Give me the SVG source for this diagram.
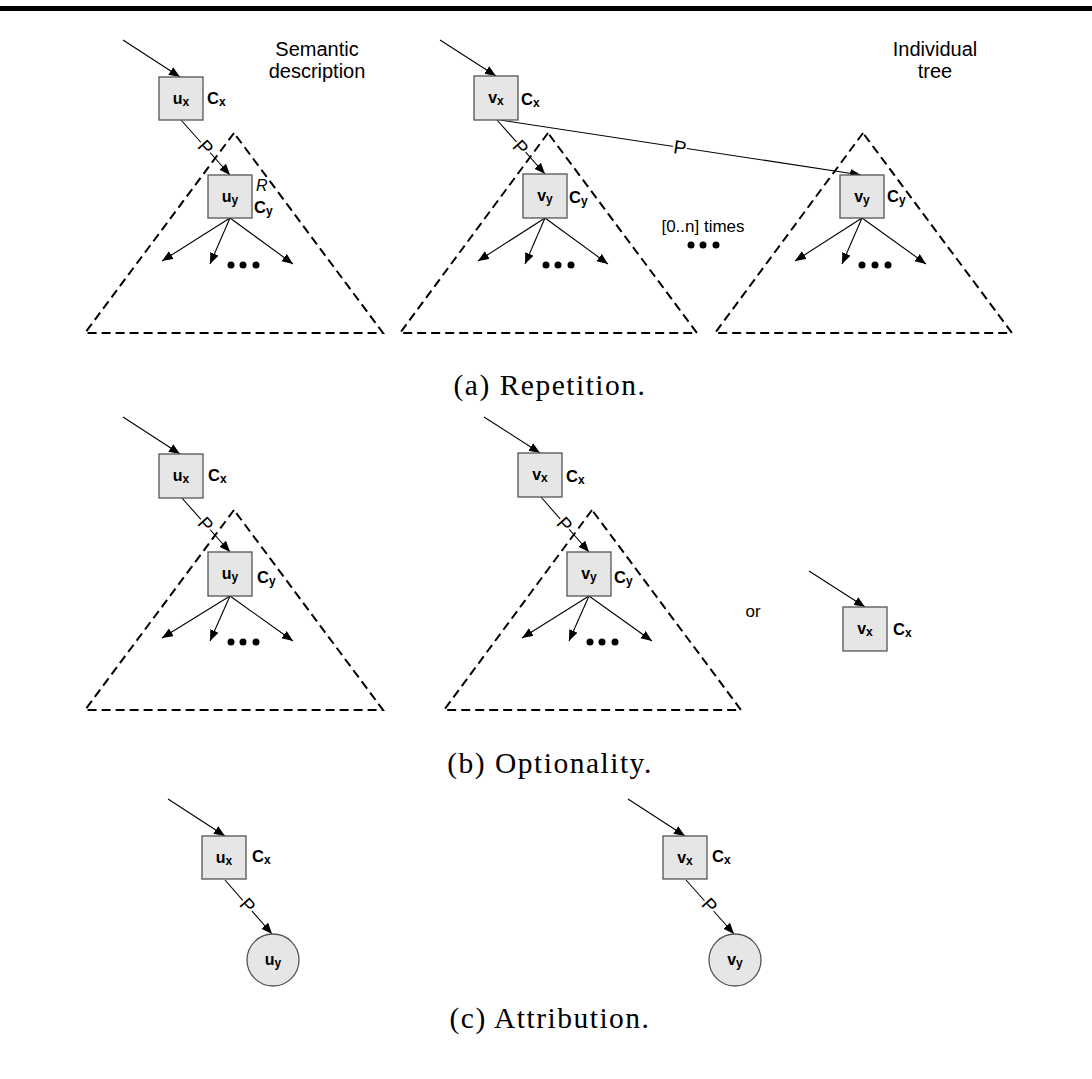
<svg xmlns="http://www.w3.org/2000/svg" width="1092" height="1079" viewBox="0 0 1092 1079">
  <style>
    .box { fill: #e6e6e6; stroke: #555; stroke-width: 1.3; }
    .edge { fill: none; stroke: #000; stroke-width: 1.1; marker-end: url(#head); }
    .tri { fill: none; stroke: #000; stroke-width: 2; stroke-dasharray: 9 5; }
    .lbl { font-family: "Liberation Sans", Arial, sans-serif; font-weight: bold; font-size: 16px; text-anchor: middle; fill: #000; }
    .cls { font-family: "Liberation Sans", Arial, sans-serif; font-weight: bold; font-size: 16.5px; fill: #000; }
    .sub { font-size: 12px; }
    .note { font-family: "Liberation Sans", Arial, sans-serif; font-size: 20px; text-anchor: middle; fill: #000; }
    .small { font-family: "Liberation Sans", Arial, sans-serif; font-size: 17px; text-anchor: middle; fill: #000; }
    .plbl { font-family: "Liberation Sans", Arial, sans-serif; font-size: 19px; text-anchor: middle; fill: #000; }
    .rlbl { font-family: "Liberation Sans", Arial, sans-serif; font-style: italic; font-size: 16px; fill: #000; }
    .cap { font-family: "Liberation Serif", "Times New Roman", serif; font-size: 29.5px; letter-spacing: 1.5px; text-anchor: middle; fill: #000; }
    .dot { fill: #000; }
  </style>
  <defs>
    <marker id="head" markerUnits="userSpaceOnUse" markerWidth="12" markerHeight="10" refX="11" refY="4.5" orient="auto">
      <path d="M0,0 L11,4.5 L0,9 Z" fill="#000"/>
    </marker>
    <!-- white backing behind a rotated P label -->
    <g id="pmask"><rect x="-7" y="-8" width="14" height="16" fill="#fff"/></g>
  </defs>

  <rect x="0" y="6" width="1092" height="5" fill="#000"/>

  <!-- dashed subtree outlines -->
  <g id="subtrees">
    <polygon class="tri" points="234,133 85,333 383,333"/>
    <polygon class="tri" points="548,133 400,333 697,333"/>
    <polygon class="tri" points="863,133 715,333 1012,333"/>
    <polygon class="tri" points="234,510 85,710 383,710"/>
    <polygon class="tri" points="592,510 444,710 741,710"/>
  </g>

  <!-- connectors -->
  <g id="connectors">
    <!-- (a) -->
    <line class="edge" x1="123" y1="40" x2="180" y2="77"/>
    <line class="edge" x1="181" y1="120" x2="230" y2="175"/>
    <line class="edge" x1="230" y1="218" x2="162" y2="261"/>
    <line class="edge" x1="230" y1="218" x2="210" y2="264"/>
    <line class="edge" x1="230" y1="218" x2="293" y2="264"/>

    <line class="edge" x1="440" y1="40" x2="496" y2="76"/>
    <line class="edge" x1="497" y1="120" x2="545" y2="174"/>
    <line class="edge" x1="500" y1="120" x2="861" y2="175"/>
    <line class="edge" x1="545" y1="218" x2="478" y2="261"/>
    <line class="edge" x1="545" y1="218" x2="525" y2="264"/>
    <line class="edge" x1="545" y1="218" x2="608" y2="264"/>

    <line class="edge" x1="862" y1="218" x2="795" y2="261"/>
    <line class="edge" x1="862" y1="218" x2="842" y2="264"/>
    <line class="edge" x1="862" y1="218" x2="926" y2="264"/>

    <!-- (b) -->
    <line class="edge" x1="123" y1="417" x2="180" y2="454"/>
    <line class="edge" x1="181" y1="497" x2="230" y2="552"/>
    <line class="edge" x1="230" y1="596" x2="162" y2="638"/>
    <line class="edge" x1="230" y1="596" x2="210" y2="641"/>
    <line class="edge" x1="230" y1="596" x2="293" y2="641"/>

    <line class="edge" x1="484" y1="417" x2="540" y2="453"/>
    <line class="edge" x1="541" y1="497" x2="589" y2="552"/>
    <line class="edge" x1="589" y1="596" x2="522" y2="638"/>
    <line class="edge" x1="589" y1="596" x2="569" y2="641"/>
    <line class="edge" x1="589" y1="596" x2="652" y2="641"/>

    <line class="edge" x1="809" y1="571" x2="865" y2="607"/>

    <!-- (c) -->
    <line class="edge" x1="168" y1="799" x2="225" y2="836"/>
    <line class="edge" x1="225" y1="880" x2="272" y2="934"/>
    <line class="edge" x1="628" y1="799" x2="685" y2="836"/>
    <line class="edge" x1="686" y1="880" x2="734" y2="934"/>

    <!-- P labels on property edges -->
    <g transform="translate(206,147) rotate(48)"><use href="#pmask"/><text class="plbl" y="7">P</text></g>
    <g transform="translate(521,147) rotate(48)"><use href="#pmask"/><text class="plbl" y="7">P</text></g>
    <g transform="translate(680,147) rotate(8.6)"><use href="#pmask"/><text class="plbl" y="7">P</text></g>
    <g transform="translate(206,524) rotate(48)"><use href="#pmask"/><text class="plbl" y="7">P</text></g>
    <g transform="translate(565,524) rotate(48)"><use href="#pmask"/><text class="plbl" y="7">P</text></g>
    <g transform="translate(248,905) rotate(48)"><use href="#pmask"/><text class="plbl" y="7">P</text></g>
    <g transform="translate(710,905) rotate(48)"><use href="#pmask"/><text class="plbl" y="7">P</text></g>
  </g>

  <!-- (a) Repetition -->
  <g id="a-ux">
    <rect class="box" x="159" y="77" width="44" height="43"/>
    <text class="lbl" x="181" y="104">u<tspan class="sub" dy="2">x</tspan></text>
    <text class="cls" x="207" y="104">C<tspan class="sub" dy="2">x</tspan></text>
  </g>
  <g id="a-uy">
    <rect class="box" x="208" y="175" width="44" height="43"/>
    <text class="lbl" x="230" y="202">u<tspan class="sub" dy="2">y</tspan></text>
    <text class="rlbl" x="256" y="191">R</text>
    <text class="cls" x="254" y="213">C<tspan class="sub" dy="2">y</tspan></text>
    <circle class="dot" cx="231" cy="265" r="3.5"/>
    <circle class="dot" cx="243" cy="265" r="3.5"/>
    <circle class="dot" cx="256" cy="265" r="3.5"/>
  </g>
  <g id="a-vx">
    <rect class="box" x="474" y="76" width="44" height="44"/>
    <text class="lbl" x="496" y="103">v<tspan class="sub" dy="2">x</tspan></text>
    <text class="cls" x="521" y="105">C<tspan class="sub" dy="2">x</tspan></text>
  </g>
  <g id="a-vy1">
    <rect class="box" x="523" y="174" width="44" height="44"/>
    <text class="lbl" x="545" y="201">v<tspan class="sub" dy="2">y</tspan></text>
    <text class="cls" x="569" y="203">C<tspan class="sub" dy="2">y</tspan></text>
    <circle class="dot" cx="546" cy="265" r="3.5"/>
    <circle class="dot" cx="558" cy="265" r="3.5"/>
    <circle class="dot" cx="571" cy="265" r="3.5"/>
  </g>
  <g id="a-repeat">
    <text class="small" x="703" y="232">[0..n] times</text>
    <circle class="dot" cx="691" cy="245" r="3.5"/>
    <circle class="dot" cx="703" cy="245" r="3.5"/>
    <circle class="dot" cx="716" cy="245" r="3.5"/>
  </g>
  <g id="a-vy2">
    <rect class="box" x="840" y="175" width="44" height="43"/>
    <text class="lbl" x="862" y="202">v<tspan class="sub" dy="2">y</tspan></text>
    <text class="cls" x="887" y="202">C<tspan class="sub" dy="2">y</tspan></text>
    <circle class="dot" cx="862" cy="265" r="3.5"/>
    <circle class="dot" cx="875" cy="265" r="3.5"/>
    <circle class="dot" cx="888" cy="265" r="3.5"/>
  </g>
  <g id="headings">
    <text class="note" x="317" y="56">Semantic</text>
    <text class="note" x="317" y="78">description</text>
    <text class="note" x="935" y="56">Individual</text>
    <text class="note" x="935" y="78">tree</text>
  </g>
  <text class="cap" x="550" y="395">(a) Repetition.</text>

  <!-- (b) Optionality -->
  <g id="b-ux">
    <rect class="box" x="159" y="454" width="44" height="44"/>
    <text class="lbl" x="181" y="481">u<tspan class="sub" dy="2">x</tspan></text>
    <text class="cls" x="208" y="481">C<tspan class="sub" dy="2">x</tspan></text>
  </g>
  <g id="b-uy">
    <rect class="box" x="208" y="552" width="44" height="44"/>
    <text class="lbl" x="230" y="579">u<tspan class="sub" dy="2">y</tspan></text>
    <text class="cls" x="257" y="583">C<tspan class="sub" dy="2">y</tspan></text>
    <circle class="dot" cx="231" cy="642" r="3.5"/>
    <circle class="dot" cx="243" cy="642" r="3.5"/>
    <circle class="dot" cx="256" cy="642" r="3.5"/>
  </g>
  <g id="b-vx">
    <rect class="box" x="518" y="453" width="44" height="44"/>
    <text class="lbl" x="540" y="480">v<tspan class="sub" dy="2">x</tspan></text>
    <text class="cls" x="566" y="482">C<tspan class="sub" dy="2">x</tspan></text>
  </g>
  <g id="b-vy">
    <rect class="box" x="567" y="552" width="44" height="44"/>
    <text class="lbl" x="589" y="579">v<tspan class="sub" dy="2">y</tspan></text>
    <text class="cls" x="614" y="583">C<tspan class="sub" dy="2">y</tspan></text>
    <circle class="dot" cx="590" cy="642" r="3.5"/>
    <circle class="dot" cx="602" cy="642" r="3.5"/>
    <circle class="dot" cx="615" cy="642" r="3.5"/>
  </g>
  <text class="small" x="753" y="617">or</text>
  <g id="b-vx-alone">
    <rect class="box" x="843" y="607" width="44" height="44"/>
    <text class="lbl" x="865" y="634">v<tspan class="sub" dy="2">x</tspan></text>
    <text class="cls" x="893" y="635">C<tspan class="sub" dy="2">x</tspan></text>
  </g>
  <text class="cap" x="550" y="773">(b) Optionality.</text>

  <!-- (c) Attribution -->
  <g id="c-ux">
    <rect class="box" x="202" y="836" width="44" height="43"/>
    <text class="lbl" x="224" y="863">u<tspan class="sub" dy="2">x</tspan></text>
    <text class="cls" x="252" y="862">C<tspan class="sub" dy="2">x</tspan></text>
  </g>
  <g id="c-uy">
    <circle class="box" cx="273" cy="960" r="26"/>
    <text class="lbl" x="273" y="965">u<tspan class="sub" dy="2">y</tspan></text>
  </g>
  <g id="c-vx">
    <rect class="box" x="663" y="836" width="44" height="43"/>
    <text class="lbl" x="685" y="863">v<tspan class="sub" dy="2">x</tspan></text>
    <text class="cls" x="712" y="862">C<tspan class="sub" dy="2">x</tspan></text>
  </g>
  <g id="c-vy">
    <circle class="box" cx="735" cy="960" r="26"/>
    <text class="lbl" x="735" y="965">v<tspan class="sub" dy="2">y</tspan></text>
  </g>
  <text class="cap" x="550" y="1028">(c) Attribution.</text>
</svg>
